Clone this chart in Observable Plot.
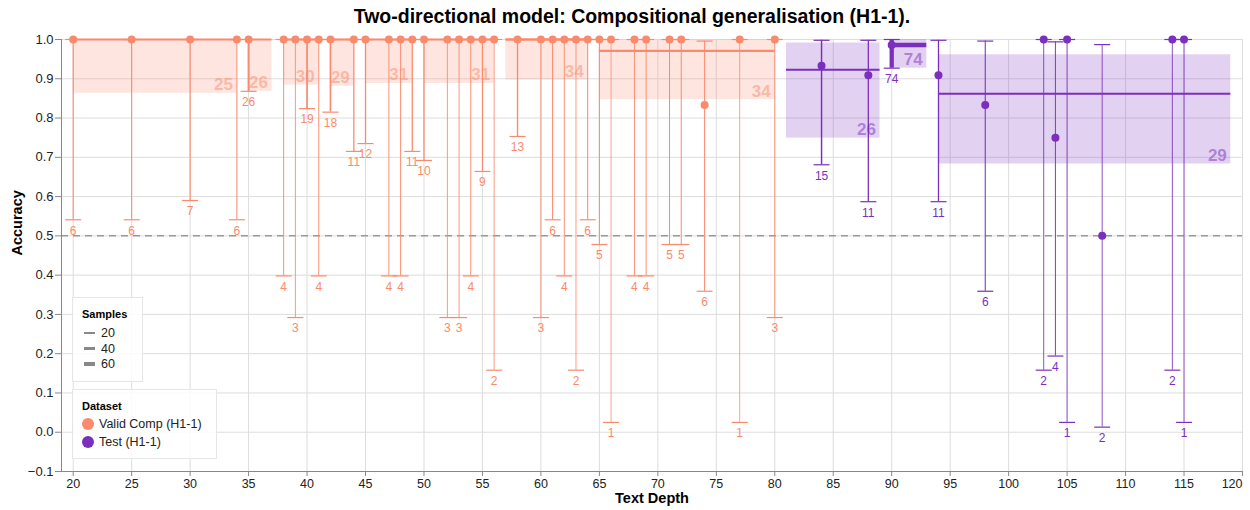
<!DOCTYPE html>
<html>
<head>
<meta charset="utf-8">
<script src="https://cdn.jsdelivr.net/npm/d3@7"></script>
<script src="https://cdn.jsdelivr.net/npm/@observablehq/plot@0.6"></script>
<style>
  body { margin: 0; background: #fff; font-family: "Liberation Sans", Arial, Helvetica, sans-serif; }
  #wrap { position: relative; width: 1250px; height: 510px; overflow: hidden; }
  #title { position: absolute; top: 5px; left: 632px; transform: translateX(-50%); white-space: nowrap;
           font-size: 19.5px; font-weight: bold; line-height: 22px; color: #000; }
  #chart { position: absolute; top: 30px; left: 0; }
  .legend { position: absolute; background: rgba(255,255,255,0.85); border: 1px solid #e6e6e6; box-sizing: border-box; }
  .legend .lt { position: absolute; left: 9px; font-size: 11px; font-weight: bold; color: #000; line-height: 12px; }
  .legend .lab { position: absolute; font-size: 12.5px; color: #222; line-height: 14px; white-space: nowrap; }
  .legend .sw { position: absolute; }
</style>
</head>
<body>
<div id="wrap">
  <div id="title">Two-directional model: Compositional generalisation (H1-1).</div>
  <div id="chart"></div>
  <div class="legend" id="legSamples" style="left:72px; top:297px; width:71px; height:85px;"></div>
  <div class="legend" id="legDataset" style="left:72px; top:389px; width:145px; height:70px;"></div>
</div>
<script>
// ---------- data ----------
const datasets = ["Valid Comp (H1-1)", "Test (H1-1)"];
const colors = ["#fa8a6c", "#7b2fbe"];

// Valid Comp (H1-1) points
const validX   = [20, 25, 30, 34, 35, 38, 39, 40, 41, 42, 44, 45, 47, 48, 49, 50, 52, 53, 54, 55, 56, 58, 60, 61, 62, 63, 64, 65, 66, 68, 69, 71, 72, 74, 77, 80];
const validN   = [6, 6, 7, 6, 26, 4, 3, 19, 4, 18, 11, 12, 4, 4, 11, 10, 3, 3, 4, 9, 2, 13, 3, 6, 4, 2, 6, 5, 1, 4, 4, 5, 5, 6, 1, 3];
const validAcc = [1, 1, 1, 1, 1, 1, 1, 1, 1, 1, 1, 1, 1, 1, 1, 1, 1, 1, 1, 1, 1, 1, 1, 1, 1, 1, 1, 1, 1, 1, 1, 1, 1, 0.833, 1, 1];
const validLo  = [0.541, 0.541, 0.590, 0.541, 0.868, 0.398, 0.292, 0.824, 0.398, 0.815, 0.715, 0.735, 0.398, 0.398, 0.715, 0.692, 0.292, 0.292, 0.398, 0.664, 0.158, 0.753, 0.292, 0.541, 0.398, 0.158, 0.541, 0.478, 0.025, 0.398, 0.398, 0.478, 0.478, 0.359, 0.025, 0.292];
const validHi  = [1, 1, 1, 1, 1, 1, 1, 1, 1, 1, 1, 1, 1, 1, 1, 1, 1, 1, 1, 1, 1, 1, 1, 1, 1, 1, 1, 1, 1, 1, 1, 1, 1, 0.996, 1, 1];

// Test (H1-1) points
const testX   = [84, 88, 90, 94, 98, 103, 104, 105, 108, 114, 115];
const testN   = [15, 11, 74, 11, 6, 2, 4, 1, 2, 2, 1];
const testAcc = [0.933, 0.909, 0.986, 0.909, 0.833, 1, 0.75, 1, 0.5, 1, 1];
const testLo  = [0.681, 0.587, 0.927, 0.587, 0.359, 0.158, 0.194, 0.025, 0.013, 0.158, 0.025];
const testHi  = [0.998, 0.998, 1.0, 0.998, 0.996, 1, 0.994, 1, 0.987, 1, 1];

// grouped bins (mean line + interval band)
const binSet   = [0, 0, 0, 0, 0, 0, 0, 0, 1, 1, 1];
const binStart = [20, 35, 38, 42, 45, 50, 57, 65, 81, 90, 94];
const binEnd   = [34, 37, 41, 44, 49, 56, 64, 80, 89, 93, 119];
const binN     = [25, 26, 30, 29, 31, 31, 34, 34, 26, 74, 29];
const binMean  = [1, 1, 1, 1, 1, 1, 1, 0.971, 0.923, 0.986, 0.862];
const binLo    = [0.863, 0.868, 0.884, 0.881, 0.888, 0.888, 0.897, 0.847, 0.749, 0.927, 0.683];
const binHi    = [1, 1, 1, 1, 1, 1, 1, 0.999, 0.991, 1.0, 0.961];

const xTicks = [20, 25, 30, 35, 40, 45, 50, 55, 60, 65, 70, 75, 80, 85, 90, 95, 100, 105, 110, 115, 120];
const yTicks = [-0.1, 0.0, 0.1, 0.2, 0.3, 0.4, 0.5, 0.6, 0.7, 0.8, 0.9, 1.0];
const sampleLegend = [20, 40, 60];

// ---------- build tables ----------
const points = [
  ...validX.map((x, i) => ({set: datasets[0], x, n: validN[i], acc: validAcc[i], lo: validLo[i], hi: validHi[i]})),
  ...testX.map((x, i) => ({set: datasets[1], x, n: testN[i], acc: testAcc[i], lo: testLo[i], hi: testHi[i]}))
];
const bins = binStart.map((s, i) => ({set: datasets[binSet[i]], start: s, end: binEnd[i], n: binN[i], mean: binMean[i], lo: binLo[i], hi: binHi[i]}));

const sw = d3.scaleLinear().domain([0, 74]).range([0.75, 4.3]);
const cap = { draw(ctx) { ctx.moveTo(-8, 0); ctx.lineTo(8, 0); } };
const font = '"Liberation Sans", Arial, Helvetica, sans-serif';
const lastTick = xTicks[xTicks.length - 1];

const chart = Plot.plot({
  width: 1250, height: 480,
  marginTop: 9, marginBottom: 39, marginLeft: 61, marginRight: 8,
  style: { fontFamily: font, fontSize: "12.5px", color: "#222", background: "white" },
  x: { domain: [19, 120], label: null },
  y: { domain: [-0.1, 1.0], label: null },
  color: { domain: datasets, range: colors },
  marks: [
    Plot.gridX(xTicks, { stroke: "#dddddd", strokeOpacity: 1 }),
    Plot.gridY(yTicks, { stroke: "#dddddd", strokeOpacity: 1 }),
    Plot.rect(bins, { x1: "start", x2: "end", y1: "lo", y2: "hi", fill: "set", fillOpacity: 0.22 }),
    Plot.ruleY([0.5], { stroke: "#999", strokeWidth: 1.5, strokeDasharray: "7,5" }),
    Plot.ruleX([19], { stroke: "#888" }),
    Plot.ruleY([-0.1], { stroke: "#888" }),
    Plot.axisX(xTicks, { tickSize: 5, tickPadding: 3, stroke: "#888", fill: "#222",
                         tickFormat: d => d === lastTick ? "" : String(d), label: null }),
    Plot.text([lastTick], { x: d => d, frameAnchor: "bottom", lineAnchor: "top", dy: 8, textAnchor: "end",
                            text: d => String(d), fill: "#222", fontSize: 12.5 }),
    Plot.axisY(yTicks, { tickSize: 6, tickPadding: 2, stroke: "#888", fill: "#222", tickFormat: d3.format(".1f"), label: null, fontSize: 13 }),
    Plot.ruleY(bins, { x1: "start", x2: "end", y: "mean", stroke: "set", strokeWidth: d => sw(d.n) }),
    Plot.ruleX(points, { x: "x", y1: "lo", y2: "hi", stroke: "set", strokeWidth: d => sw(d.n) }),
    Plot.dot(points, { x: "x", y: "lo", symbol: cap, stroke: "set", strokeWidth: 1.2, fill: "none" }),
    Plot.dot(points, { x: "x", y: "hi", symbol: cap, stroke: "set", strokeWidth: 1.2, fill: "none" }),
    Plot.dot(points, { x: "x", y: "acc", fill: "set", r: 4 }),
    Plot.text(points, { x: "x", y: "lo", text: d => String(d.n), dy: 11, fill: "set", fontSize: 12 }),
    Plot.text(bins, { x: "end", y: "lo", text: d => String(d.n), textAnchor: "end", lineAnchor: "bottom",
                      dx: -4, dy: -3, fill: "set", fillOpacity: 0.5, fontSize: 17, fontWeight: "bold" }),
    Plot.text(["Accuracy"], { frameAnchor: "left", text: d => d, rotate: -90, dx: -44, fontWeight: "bold", fontSize: 14.5, fill: "#000" }),
    Plot.text(["Text Depth"], { frameAnchor: "bottom", text: d => d, dy: 31, fontWeight: "bold", fontSize: 14.5, fill: "#000" })
  ]
});
document.getElementById("chart").appendChild(chart);

// ---------- legends ----------
const ls = document.getElementById("legSamples");
ls.innerHTML = '<div class="lt" style="top:10px">Samples</div>' +
  sampleLegend.map((v, i) => {
    const cy = 35 + i * 15.5;
    const h = sw(v);
    return `<div class="sw" style="left:11px; top:${cy - h / 2}px; width:11px; height:${h}px; background:#888"></div>` +
           `<div class="lab" style="left:28px; top:${cy - 7}px">${v}</div>`;
  }).join("");

const ld = document.getElementById("legDataset");
ld.innerHTML = '<div class="lt" style="top:10px">Dataset</div>' +
  datasets.map((v, i) => {
    const cy = 34 + i * 18;
    return `<div class="sw" style="left:9px; top:${cy - 6}px; width:12px; height:12px; border-radius:6px; background:${colors[i]}"></div>` +
           `<div class="lab" style="left:26px; top:${cy - 7}px">${v}</div>`;
  }).join("");
</script>
</body>
</html>
